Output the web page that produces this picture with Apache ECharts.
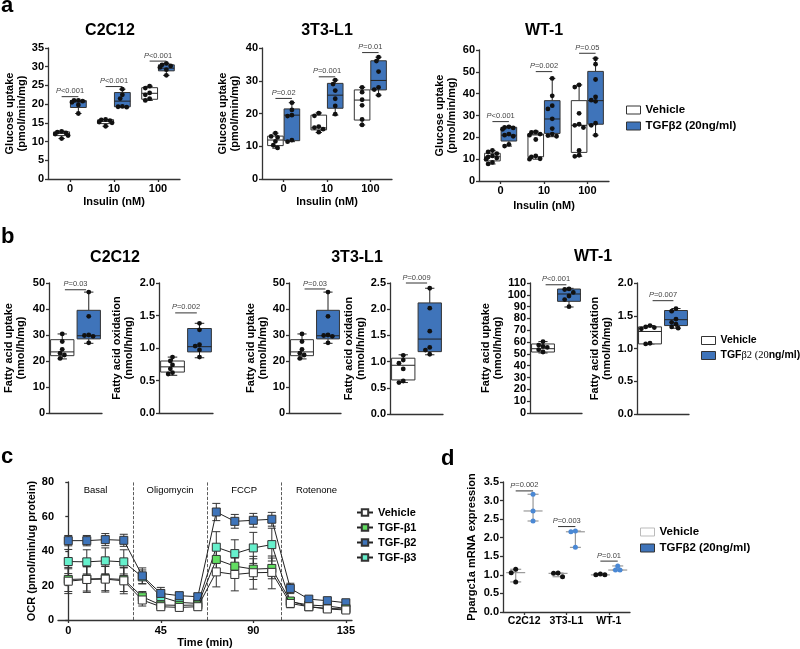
<!DOCTYPE html>
<html><head><meta charset="utf-8">
<script src="https://cdn.jsdelivr.net/npm/echarts@6/dist/echarts.min.js"></script>
<style>html,body{margin:0;padding:0;background:#fff}#c{width:800px;height:649px}</style>
</head><body><div id="c"></div>
<script>
// ---------------- DATA ----------------
const insulinCats = ['0', '10', '100'];
const groupCats = ['Vehicle', 'TGFβ2'];
const cellCats = ['C2C12', '3T3-L1', 'WT-1'];

// panel a : glucose uptake (points and box stats [min,q1,median,q3,max])
const aC2VehPts = [[12.7, 12.5, 12.3, 12.0, 11.6, 10.8], [15.9, 15.8, 15.6, 15.2, 15.0, 14.1], [24.8, 24.3, 23.0, 22.5, 21.5, 21.0]];
const aC2VehBox = [[10.8, 11.6, 12.2, 12.6, 12.8], [14.1, 14.8, 15.4, 15.85, 15.9], [21.0, 21.3, 22.9, 24.4, 24.8]];
const aC2TgfPts = [[21.0, 21.0, 20.8, 20.5, 19.8, 17.5], [24.0, 22.5, 21.5, 19.4, 19.3, 19.2], [30.9, 30.5, 30.2, 29.8, 29.2, 27.7]];
const aC2TgfBox = [[17.5, 19.1, 20.6, 20.95, 21.0], [19.2, 19.3, 20.8, 23.1, 24.0], [27.7, 28.9, 29.6, 30.5, 30.9]];
const aC2P = ['P<0.001', 'P<0.001', 'P<0.001'];
const aC2PY = [22.0, 24.7, 31.5];

const a3TVehPts = [[14.0, 13.0, 12.7, 11.5, 10.3, 9.5], [20.1, 19.3, 16.0, 15.7, 15.2, 14.3], [28.0, 26.5, 24.2, 22.5, 18.2, 16.5]];
const a3TVehBox = [[9.4, 10.2, 11.9, 13.1, 14.0], [14.2, 15.0, 15.6, 19.5, 20.2], [16.5, 18.0, 24.1, 27.2, 28.0]];
const a3TTgfPts = [[23.3, 21.1, 19.5, 19.2, 11.9, 11.4], [30.2, 29.0, 27.0, 24.5, 22.3, 19.8], [37.2, 36.0, 32.8, 28.0, 27.3, 25.6]];
const a3TTgfBox = [[11.4, 11.7, 19.5, 21.4, 23.3], [19.5, 21.6, 25.6, 29.2, 30.2], [25.6, 27.2, 30.1, 36.1, 37.2]];
const a3TP = ['P=0.02', 'P=0.001', 'P=0.01'];
const a3TPY = [24.6, 31.2, 38.6];

const aWTVehPts = [[14.0, 13.3, 12.5, 11.5, 11.0, 10.5, 10.0, 8.5, 7.8], [22.5, 22.3, 21.5, 21.0, 19.0, 11.5, 11.0, 10.2, 10.0], [44.0, 43.0, 31.0, 26.0, 25.5, 24.5, 14.0, 11.8, 11.3]];
const aWTVehBox = [[7.8, 9.2, 11.1, 12.7, 14.0], [10.0, 11.1, 21.1, 21.5, 22.8], [11.3, 13.1, 25.5, 36.8, 44.0]];
const aWTTgfPts = [[24.8, 24.5, 24.3, 23.7, 21.5, 21.0, 20.5, 16.8, 16.0], [47.0, 39.0, 34.5, 33.0, 28.5, 24.0, 21.5, 20.8, 20.5], [56.0, 53.5, 46.5, 38.5, 37.0, 36.5, 26.5, 25.5, 21.0]];
const aWTTgfBox = [[16.0, 18.3, 21.0, 24.6, 25.0], [20.3, 21.8, 28.4, 36.8, 47.0], [21.0, 26.0, 36.8, 50.2, 56.2]];
const aWTP = ['P<0.001', 'P=0.002', 'P=0.05'];
const aWTPY = [27.2, 50.1, 58.5];

// panel b : fatty acid uptake / oxidation
const bC2UpVehPts = [30.4, 27.5, 24.5, 23.0, 22.3, 21.0];
const bC2UpVehBox = [20.8, 22.05, 23.5, 28.2, 30.4];
const bC2UpTgfPts = [46.5, 37.2, 30.0, 29.8, 29.5, 27.0];
const bC2UpTgfBox = [26.8, 28.5, 29.7, 39.5, 46.5];
const bC2OxVehPts = [0.86, 0.80, 0.74, 0.68, 0.62, 0.60];
const bC2OxVehBox = [0.58, 0.63, 0.71, 0.80, 0.86];
const bC2OxTgfPts = [1.38, 1.28, 1.05, 1.03, 0.97, 0.86];
const bC2OxTgfBox = [0.85, 0.94, 1.02, 1.30, 1.38];

const b3TUpVehPts = [30.4, 27.5, 24.5, 23.0, 22.3, 21.0];
const b3TUpVehBox = [20.8, 22.05, 23.5, 28.2, 30.4];
const b3TUpTgfPts = [46.5, 37.2, 30.0, 29.8, 29.5, 27.0];
const b3TUpTgfBox = [26.8, 28.5, 29.7, 39.5, 46.5];
const b3TOxVehPts = [1.12, 1.03, 0.97, 0.86, 0.63, 0.60];
const b3TOxVehBox = [0.60, 0.65, 0.93, 1.065, 1.13];
const b3TOxTgfPts = [2.40, 2.02, 1.58, 1.27, 1.22, 1.14];
const b3TOxTgfBox = [1.13, 1.19, 1.43, 2.12, 2.40];

const bWTUpVehPts = [60.4, 57.5, 56.4, 55.6, 53.6, 51.6];
const bWTUpVehBox = [50.8, 51.6, 54.4, 58.4, 60.4];
const bWTUpTgfPts = [105.0, 104.5, 102.0, 99.0, 96.0, 90.0];
const bWTUpTgfBox = [89.7, 94.5, 100.7, 104.9, 105.5];
const bWTOxVehPts = [1.35, 1.33, 1.32, 1.30, 1.08, 1.07];
const bWTOxVehBox = [1.07, 1.07, 1.26, 1.33, 1.35];
const bWTOxTgfPts = [1.61, 1.57, 1.45, 1.40, 1.37, 1.33, 1.31];
const bWTOxTgfBox = [1.31, 1.35, 1.44, 1.58, 1.61];

const bP = ['P=0.03', 'P=0.002', 'P=0.03', 'P=0.009', 'P<0.001', 'P=0.007'];
const bPY = [47.4, 1.54, 47.7, 2.5, 108.5, 1.73];

// panel c : OCR time course
const cTime = [0, 9, 18, 27, 36, 45, 54, 63, 72, 81, 90, 99, 108, 117, 126, 135];
const cInject = [31.5, 67.5, 103.5];
const cPhases = ['Basal', 'Oligomycin', 'FCCP', 'Rotenone'];
const cVeh = [22.5, 23.5, 23.7, 22.7, 11.6, 7.7, 7.3, 7.7, 27.9, 26.4, 27.4, 27.6, 9.6, 7.7, 6.4, 5.8];
const cVehErr = [7.2, 7.5, 7.5, 7.5, 3.5, 2, 2, 2, 8.7, 9.5, 9.5, 9.5, 2.5, 2, 1.5, 1.5];
const cB1 = [23.5, 23.8, 24.0, 23.5, 13.5, 8.7, 8.5, 8.7, 35.1, 31.2, 29.5, 29.9, 11.0, 7.7, 6.7, 6.4];
const cB1Err = [7, 7, 7, 7, 3, 2, 2, 2, 6, 6, 6, 6, 2, 1.5, 1.5, 1.5];
const cB2 = [46.0, 46.0, 46.6, 46.2, 25.6, 15.4, 14.1, 13.5, 62.6, 57.2, 57.8, 58.4, 18.3, 12.1, 11.2, 10.0];
const cB2Err = [3, 3, 3.5, 3.5, 4.6, 3.5, 2, 1.5, 5, 4, 4, 4, 3, 1.5, 1.5, 1.5];
const cB3 = [33.9, 33.7, 34.3, 33.7, 25.0, 13.5, 10.2, 9.6, 42.2, 38.5, 41.8, 43.7, 10.6, 8.7, 8.1, 6.7];
const cB3Err = [7, 7, 7.5, 7, 4, 4, 2, 2, 9, 8, 9, 9.5, 2, 1.5, 1.5, 1.5];

// panel d : Ppargc1a expression
const dVeh = [[1.15, 1.06, 0.81], [1.05, 1.04, 0.95], [1.02, 1.00, 1.00]];
const dTgf = [[3.17, 2.72, 2.45], [2.18, 2.16, 1.74], [1.24, 1.13, 1.13]];
const dP = ['P=0.002', 'P=0.003', 'P=0.01'];
const dPY = [3.26, 2.30, 1.37];

// ---------------- STYLE ----------------
const FONT = '"Liberation Sans", Arial, Helvetica, sans-serif';
const BLUE = '#3F74BA';
const AX = '#333';
const NAME_VEH = 'Vehicle';
const NAME_TGF = 'TGFβ2 (20ng/ml)';

function median(a) { const s = [...a].sort((x, y) => x - y); const m = Math.floor(s.length / 2); return s.length % 2 ? s[m] : (s[m - 1] + s[m]) / 2; }

function swarm(ys, r, maxOff) {
  const order = ys.map((_, i) => i).sort((a, b) => ys[a] - ys[b]);
  const placed = []; const xs = new Array(ys.length).fill(0);
  const d2 = (2 * r) * (2 * r) * 0.8;
  for (const i of order) {
    const y = ys[i]; let best = 0;
    for (let k = 0; k < 30; k++) {
      const cand = k === 0 ? 0 : (k % 2 ? -1 : 1) * Math.ceil(k / 2) * r * 0.9;
      if (placed.every(p => (p.x - cand) ** 2 + (p.y - y) ** 2 >= d2)) { best = cand; break; }
    }
    best = Math.max(-maxOff, Math.min(maxOff, best));
    xs[i] = best; placed.push({ x: best, y });
  }
  return xs;
}

function yAxis(grid, min, max, interval, name, gap, dec) {
  const lab = { fontWeight: 'bold', fontSize: 11, color: '#000', margin: 4, fontFamily: FONT };
  if (dec) lab.formatter = v => v.toFixed(dec);
  return {
    type: 'value', gridIndex: grid, min, max, interval, name, nameLocation: 'middle', nameGap: gap, nameRotate: 90,
    nameTextStyle: { fontWeight: 'bold', fontSize: 11, color: '#000', lineHeight: 12, fontFamily: FONT },
    axisLine: { show: true, lineStyle: { color: AX, width: 1.3 } },
    axisTick: { show: true, length: 3, lineStyle: { color: AX, width: 1.3 } },
    axisLabel: lab, splitLine: { show: false }
  };
}
function xCat(grid, data, show, name, gap) {
  return {
    type: 'category', gridIndex: grid, data, boundaryGap: true,
    name: name || '', nameLocation: 'middle', nameGap: gap || 17,
    nameTextStyle: { fontWeight: 'bold', fontSize: 11, color: '#000', fontFamily: FONT },
    axisLine: { show: true, lineStyle: { color: AX, width: 1.3 } },
    axisTick: { show: show, alignWithLabel: true, length: 3, lineStyle: { color: AX, width: 1.3 } },
    axisLabel: { show: show, interval: 0, hideOverlap: false, fontWeight: 'bold', fontSize: 11, color: '#000', margin: 4, fontFamily: FONT },
    splitLine: { show: false }
  };
}

function boxSeries(name, grid, cats, boxes, pts, off, wf, fill, r) {
  return {
    type: 'custom', name, xAxisIndex: grid, yAxisIndex: grid, clip: false, z: 3,
    data: boxes.map((b, i) => [cats[i], ...b]),
    encode: { x: 0, y: [1, 2, 3, 4, 5] },
    renderItem(params, api) {
      const c = api.value(0);
      const band = api.size([1, 0])[0];
      const cx = api.coord([c, 0])[0] + off * band;
      const w = wf * band;
      const Y = k => api.coord([c, api.value(k)])[1];
      const yMin = Y(1), yQ1 = Y(2), yMed = Y(3), yQ3 = Y(4), yMax = Y(5);
      const cap = w * 0.4;
      const ls = { stroke: '#222', lineWidth: 1 };
      const ch = [
        { type: 'line', shape: { x1: cx, y1: yQ3, x2: cx, y2: yMax }, style: ls },
        { type: 'line', shape: { x1: cx, y1: yQ1, x2: cx, y2: yMin }, style: ls },
        { type: 'line', shape: { x1: cx - cap / 2, y1: yMax, x2: cx + cap / 2, y2: yMax }, style: ls },
        { type: 'line', shape: { x1: cx - cap / 2, y1: yMin, x2: cx + cap / 2, y2: yMin }, style: ls },
        { type: 'rect', shape: { x: cx - w / 2, y: yQ3, width: w, height: yQ1 - yQ3 }, style: { fill, stroke: '#333', lineWidth: 1 } },
        { type: 'line', shape: { x1: cx - w / 2, y1: yMed, x2: cx + w / 2, y2: yMed }, style: ls }
      ];
      const p = pts[params.dataIndex];
      const ys = p.map(v => api.coord([c, v])[1]);
      const xs = swarm(ys, r, w / 2 - 1.5);
      p.forEach((v, i) => ch.push({ type: 'circle', shape: { cx: cx + xs[i], cy: ys[i], r }, style: { fill: '#111' } }));
      return { type: 'group', children: ch };
    }
  };
}

function pSeries(grid, items) {
  return {
    type: 'custom', xAxisIndex: grid, yAxisIndex: grid, clip: false, z: 4, silent: true,
    data: items.map(it => [it.c0, it.y]),
    renderItem(params, api) {
      const it = items[params.dataIndex];
      const band = api.size([1, 0])[0];
      const p0 = api.coord([it.c0, api.value(1)]);
      const p1 = api.coord([it.c1, api.value(1)]);
      const x0 = p0[0] + it.o0 * band, x1 = p1[0] + it.o1 * band, y = p0[1];
      const rs = { fontSize: 7.5, fill: '#444', fontFamily: FONT };
      return { type: 'group', children: [
        { type: 'line', shape: { x1: x0, y1: y, x2: x1, y2: y }, style: { stroke: '#333', lineWidth: 1 } },
        { type: 'text', style: { text: '{i|P}{n|' + it.t.slice(1) + '}', x: (x0 + x1) / 2, y: y - 1.5, align: 'center', verticalAlign: 'bottom',
          fontSize: 7.5, fill: '#444', fontFamily: FONT, rich: { i: Object.assign({ fontStyle: 'italic' }, rs), n: rs } } }
      ] };
    }
  };
}

function errSeries(grid, vals, errs) {
  return {
    type: 'custom', xAxisIndex: grid, yAxisIndex: grid, z: 1, silent: true,
    data: cTime.map((t, i) => [t, vals[i], errs[i]]),
    encode: { x: 0, y: 1 },
    renderItem(params, api) {
      const t = api.value(0), v = api.value(1), e = api.value(2);
      const top = api.coord([t, v + e]), bot = api.coord([t, v - e]);
      const x = top[0], hw = 4;
      const ls = { stroke: '#333', lineWidth: 1 };
      return { type: 'group', children: [
        { type: 'line', shape: { x1: x, y1: top[1], x2: x, y2: bot[1] }, style: ls },
        { type: 'line', shape: { x1: x - hw, y1: top[1], x2: x + hw, y2: top[1] }, style: ls },
        { type: 'line', shape: { x1: x - hw, y1: bot[1], x2: x + hw, y2: bot[1] }, style: ls }
      ] };
    }
  };
}

function lineSeries(name, vals, color, z, extra) {
  return Object.assign({
    type: 'line', name, xAxisIndex: 9, yAxisIndex: 9, z,
    data: cTime.map((t, i) => [t, vals[i]]),
    symbol: 'rect', symbolSize: 8, showAllSymbol: true,
    itemStyle: { color, borderColor: '#333', borderWidth: 1 },
    lineStyle: { color: '#222', width: 1 }
  }, extra || {});
}

function dSeries(name, pts, off, color) {
  return {
    type: 'custom', name, xAxisIndex: 10, yAxisIndex: 10, z: 3,
    data: pts.map((p, i) => [i, Math.min(...p), median(p), Math.max(...p)]),
    encode: { x: 0, y: [1, 2, 3] },
    renderItem(params, api) {
      const c = api.value(0);
      const band = api.size([1, 0])[0];
      const cx = api.coord([c, 0])[0] + off * band;
      const yMin = api.coord([c, api.value(1)])[1], yMed = api.coord([c, api.value(2)])[1], yMax = api.coord([c, api.value(3)])[1];
      const ls = { stroke: '#999', lineWidth: 1.2 };
      const ch = [
        { type: 'line', shape: { x1: cx, y1: yMin, x2: cx, y2: yMax }, style: ls },
        { type: 'line', shape: { x1: cx - 5.5, y1: yMin, x2: cx + 5.5, y2: yMin }, style: ls },
        { type: 'line', shape: { x1: cx - 5.5, y1: yMax, x2: cx + 5.5, y2: yMax }, style: ls },
        { type: 'line', shape: { x1: cx - 9.5, y1: yMed, x2: cx + 9.5, y2: yMed }, style: ls }
      ];
      const p = pts[params.dataIndex];
      const ys = p.map(v => api.coord([c, v])[1]);
      const xs = swarm(ys, 2.5, 10);
      p.forEach((v, i) => ch.push({ type: 'circle', shape: { cx: cx + xs[i], cy: ys[i], r: 2.5 }, style: { fill: color } }));
      return { type: 'group', children: ch };
    }
  };
}

// ---------------- LAYOUT ----------------
const grids = [
  { left: 48, top: 48, width: 132, height: 131 },
  { left: 262, top: 48, width: 130, height: 131 },
  { left: 479, top: 50, width: 130, height: 131 },
  { left: 49, top: 283, width: 53, height: 130 },
  { left: 159, top: 283, width: 54, height: 130 },
  { left: 289, top: 283, width: 52, height: 130 },
  { left: 390, top: 283, width: 53, height: 131 },
  { left: 530, top: 283, width: 52, height: 130 },
  { left: 637, top: 283, width: 52, height: 131 },
  { left: 58, top: 482, width: 294, height: 138 },
  { left: 503, top: 482, width: 127, height: 130 }
];

const xAxes = [
  xCat(0, insulinCats, true, 'Insulin (nM)', 17),
  xCat(1, insulinCats, true, 'Insulin (nM)', 17),
  xCat(2, insulinCats, true, 'Insulin (nM)', 19),
  xCat(3, groupCats, false), xCat(4, groupCats, false), xCat(5, groupCats, false),
  xCat(6, groupCats, false), xCat(7, groupCats, false), xCat(8, groupCats, false),
  {
    type: 'value', gridIndex: 9, min: -5, max: 138, name: 'Time (min)', nameLocation: 'middle', nameGap: 17,
    nameTextStyle: { fontWeight: 'bold', fontSize: 11, color: '#000', fontFamily: FONT },
    axisLine: { show: true, lineStyle: { color: AX, width: 1.3 } },
    axisTick: { show: true, length: 3, customValues: [0, 45, 90, 135], lineStyle: { color: AX, width: 1.3 } },
    axisLabel: { fontWeight: 'bold', fontSize: 11, color: '#000', margin: 5, fontFamily: FONT, customValues: [0, 45, 90, 135] },
    splitLine: { show: false }
  },
  xCat(10, cellCats, true)
];
xAxes[10].axisLabel.fontSize = 10.5;

const GU = 'Glucose uptake\n(pmol/min/mg)';
const FU = 'Fatty acid uptake\n(nmol/h/mg)';
const FO = 'Fatty acid oxidation\n(nmol/h/mg)';
const yAxes = [
  yAxis(0, 0, 35, 5, GU, 20),
  yAxis(1, 0, 40, 10, GU, 21),
  yAxis(2, 0, 60, 10, GU, 21),
  yAxis(3, 0, 50, 10, FU, 22),
  yAxis(4, 0, 2, 0.5, FO, 24, 1),
  yAxis(5, 0, 50, 10, FU, 16),
  yAxis(6, 0, 2.5, 0.5, FO, 16, 1),
  yAxis(7, 0, 110, 10, FU, 24),
  yAxis(8, 0, 2, 0.5, FO, 24, 1),
  yAxis(9, 0, 80, 20, 'OCR (pmol/min/ug protein)', 20),
  yAxis(10, 0, 3.5, 0.5, 'Ppargc1a mRNA expression', 25, 1)
];

const A_OFF = 0.19, A_W = 0.36, B_W = 0.88, R = 2.4;
const aP = (labels, ys) => labels.map((t, i) => ({ c0: i, o0: -A_OFF, c1: i, o1: A_OFF, y: ys[i], t }));
const bItem = i => [{ c0: 0, o0: 0.1, c1: 1, o1: -0.1, y: bPY[i], t: bP[i] }];

const series = [
  // panel c lines (first so that the line legend icons come from them)
  lineSeries('Vehicle', cVeh, '#ffffff', 8, {
    markLine: { silent: true, symbol: ['none', 'none'], lineStyle: { type: 'dashed', color: '#333', width: 0.8 }, label: { show: false },
      data: cInject.map(x => ({ xAxis: x })) },
    markArea: { silent: true, itemStyle: { color: 'rgba(0,0,0,0)' },
      label: { show: true, position: 'insideTop', distance: 3, color: '#000', fontSize: 9.5, fontFamily: FONT },
      data: cPhases.map((p, i) => [{ name: p, xAxis: i === 0 ? -5 : cInject[i - 1] }, { xAxis: i === 3 ? 138 : cInject[i] }]) }
  }),
  lineSeries('TGF-β1', cB1, '#62DE62', 7),
  lineSeries('TGF-β2', cB2, '#3E74BA', 6),
  lineSeries('TGF-β3', cB3, '#66F0CC', 5),
  errSeries(9, cVeh, cVehErr), errSeries(9, cB1, cB1Err), errSeries(9, cB2, cB2Err), errSeries(9, cB3, cB3Err),

  // panel a
  boxSeries(NAME_VEH, 0, [0, 1, 2], aC2VehBox, aC2VehPts, -A_OFF, A_W, '#fff', R),
  boxSeries(NAME_TGF, 0, [0, 1, 2], aC2TgfBox, aC2TgfPts, A_OFF, A_W, BLUE, R),
  pSeries(0, aP(aC2P, aC2PY)),
  boxSeries(NAME_VEH, 1, [0, 1, 2], a3TVehBox, a3TVehPts, -A_OFF, A_W, '#fff', R),
  boxSeries(NAME_TGF, 1, [0, 1, 2], a3TTgfBox, a3TTgfPts, A_OFF, A_W, BLUE, R),
  pSeries(1, aP(a3TP, a3TPY)),
  boxSeries(NAME_VEH, 2, [0, 1, 2], aWTVehBox, aWTVehPts, -A_OFF, A_W, '#fff', R),
  boxSeries(NAME_TGF, 2, [0, 1, 2], aWTTgfBox, aWTTgfPts, A_OFF, A_W, BLUE, R),
  pSeries(2, aP(aWTP, aWTPY)),

  // panel b
  boxSeries(NAME_VEH, 3, [0], [bC2UpVehBox], [bC2UpVehPts], 0, B_W, '#fff', R),
  boxSeries(NAME_TGF, 3, [1], [bC2UpTgfBox], [bC2UpTgfPts], 0, B_W, BLUE, R),
  pSeries(3, bItem(0)),
  boxSeries(NAME_VEH, 4, [0], [bC2OxVehBox], [bC2OxVehPts], 0, B_W, '#fff', R),
  boxSeries(NAME_TGF, 4, [1], [bC2OxTgfBox], [bC2OxTgfPts], 0, B_W, BLUE, R),
  pSeries(4, bItem(1)),
  boxSeries(NAME_VEH, 5, [0], [b3TUpVehBox], [b3TUpVehPts], 0, B_W, '#fff', R),
  boxSeries(NAME_TGF, 5, [1], [b3TUpTgfBox], [b3TUpTgfPts], 0, B_W, BLUE, R),
  pSeries(5, bItem(2)),
  boxSeries(NAME_VEH, 6, [0], [b3TOxVehBox], [b3TOxVehPts], 0, B_W, '#fff', R),
  boxSeries(NAME_TGF, 6, [1], [b3TOxTgfBox], [b3TOxTgfPts], 0, B_W, BLUE, R),
  pSeries(6, bItem(3)),
  boxSeries(NAME_VEH, 7, [0], [bWTUpVehBox], [bWTUpVehPts], 0, B_W, '#fff', R),
  boxSeries(NAME_TGF, 7, [1], [bWTUpTgfBox], [bWTUpTgfPts], 0, B_W, BLUE, R),
  pSeries(7, bItem(4)),
  boxSeries(NAME_VEH, 8, [0], [bWTOxVehBox], [bWTOxVehPts], 0, B_W, '#fff', R),
  boxSeries(NAME_TGF, 8, [1], [bWTOxTgfBox], [bWTOxTgfPts], 0, B_W, BLUE, R),
  pSeries(8, bItem(5)),

  // panel d
  dSeries(NAME_VEH, dVeh, -0.2, '#111'),
  dSeries(NAME_TGF, dTgf, 0.21, '#4A88D4'),
  pSeries(10, dP.map((t, i) => ({ c0: i, o0: -0.2, c1: i, o1: 0.21, y: dPY[i], t })))
];

const legTxt = { fontWeight: 'bold', fontSize: 11.5, color: '#000', fontFamily: FONT };
function boxLegend(left, top, vehBorder, rich) {
  const l = {
    left, top, orient: 'vertical', padding: 0, itemWidth: 14, itemHeight: 8, itemGap: 4, selectedMode: false,
    textStyle: Object.assign({}, legTxt),
    data: [
      { name: NAME_VEH, icon: 'rect', itemStyle: { color: '#fff', borderColor: vehBorder, borderWidth: 1 } },
      { name: NAME_TGF, icon: 'rect', itemStyle: { color: BLUE, borderColor: '#333', borderWidth: 1 } }
    ]
  };
  if (rich) {
    l.formatter = n => n === NAME_TGF ? '{b|TGF}{s|β2 (20}{b|ng/ml)}' : '{b|' + n + '}';
    l.textStyle.rich = {
      b: { fontWeight: 'bold', fontSize: 10.5, color: '#000', fontFamily: FONT },
      s: { fontWeight: 'normal', fontSize: 10.5, color: '#000', fontFamily: '"Liberation Serif", "Times New Roman", serif' }
    };
  }
  return l;
}

const legends = [
  boxLegend(626, 104, '#333', false),
  boxLegend(701, 335, '#333', true),
  boxLegend(640, 526, '#bbb', false),
  { left: 356, top: 507, orient: 'vertical', padding: 0, itemWidth: 16, itemHeight: 8, itemGap: 4, selectedMode: false,
    textStyle: Object.assign({}, legTxt, { fontSize: 11 }),
    data: ['Vehicle', 'TGF-β1', 'TGF-β2', 'TGF-β3'] }
];

function txt(t, x, y, size, align) {
  return { type: 'text', x, y, style: { text: t, font: 'bold ' + size + 'px ' + FONT, fill: '#000', align: align || 'left', verticalAlign: 'middle' } };
}
const graphics = [
  txt('a', 1, 5.5, 22), txt('b', 1, 236.5, 22), txt('c', 1, 457, 22), txt('d', 441, 459, 22),
  txt('C2C12', 110, 31, 16, 'center'), txt('3T3-L1', 327, 31, 16, 'center'), txt('WT-1', 544, 30.5, 16, 'center'),
  txt('C2C12', 115, 258, 16, 'center'), txt('3T3-L1', 357, 258, 16, 'center'), txt('WT-1', 593, 257, 16, 'center')
];

const chart = echarts.init(document.getElementById('c'), null, { renderer: 'canvas' });
chart.setOption({
  animation: false,
  backgroundColor: '#fff',
  textStyle: { fontFamily: FONT },
  grid: grids,
  xAxis: xAxes,
  yAxis: yAxes,
  legend: legends,
  graphic: graphics,
  series
});
</script></body></html>
